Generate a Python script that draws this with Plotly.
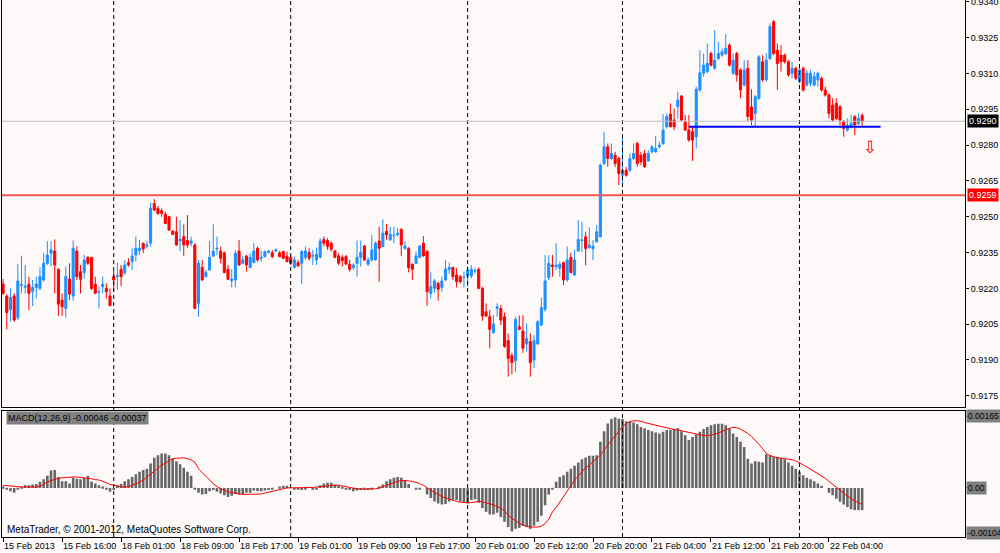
import plotly.graph_objects as go

# M30 candles, 15 Feb 2013 08:00 -> 22 Feb 2013 08:30
o = [0.92218, 0.92168, 0.92110, 0.92168, 0.92077, 0.92212, 0.92205, 0.92217, 0.92186, 0.92204,
     0.92200, 0.92235, 0.92305, 0.92347, 0.92356, 0.92280, 0.92151, 0.92116, 0.92239, 0.92168,
     0.92356, 0.92270, 0.92266, 0.92330, 0.92329, 0.92217, 0.92184, 0.92207, 0.92200, 0.92168,
     0.92249, 0.92249, 0.92280, 0.92266, 0.92308, 0.92312, 0.92340, 0.92358, 0.92389, 0.92377,
     0.92389, 0.92556, 0.92535, 0.92525, 0.92510, 0.92500, 0.92440, 0.92437, 0.92398, 0.92417,
     0.92400, 0.92389, 0.92382, 0.92137, 0.92288, 0.92249, 0.92277, 0.92335, 0.92365, 0.92356,
     0.92349, 0.92280, 0.92232, 0.92235, 0.92356, 0.92305, 0.92335, 0.92287, 0.92308, 0.92368,
     0.92326, 0.92333, 0.92350, 0.92349, 0.92356, 0.92349, 0.92354, 0.92335, 0.92330, 0.92288,
     0.92308, 0.92305, 0.92330, 0.92350, 0.92335, 0.92319, 0.92330, 0.92405, 0.92400, 0.92389,
     0.92357, 0.92336, 0.92330, 0.92333, 0.92301, 0.92287, 0.92305, 0.92330, 0.92377, 0.92301,
     0.92319, 0.92319, 0.92398, 0.92375, 0.92438, 0.92403, 0.92420, 0.92426, 0.92447, 0.92368,
     0.92368, 0.92301, 0.92305, 0.92330, 0.92389, 0.92354, 0.92179, 0.92200, 0.92221, 0.92204,
     0.92235, 0.92280, 0.92287, 0.92256, 0.92249, 0.92245, 0.92252, 0.92252, 0.92272, 0.92280,
     0.92200, 0.92102, 0.92081, 0.92014, 0.92116, 0.92116, 0.92081, 0.91981, 0.91918, 0.91897,
     0.92039, 0.92021, 0.91967, 0.91977, 0.91900, 0.91967, 0.92046, 0.92112, 0.92245, 0.92298,
     0.92291, 0.92284, 0.92308, 0.92235, 0.92330, 0.92256, 0.92357, 0.92400, 0.92416, 0.92371,
     0.92366, 0.92395, 0.92416, 0.92723, 0.92793, 0.92744, 0.92758, 0.92744, 0.92674, 0.92695,
     0.92695, 0.92744, 0.92807, 0.92758, 0.92765, 0.92734, 0.92772, 0.92772, 0.92793, 0.92807,
     0.92877, 0.92930, 0.92905, 0.92961, 0.93006, 0.92898, 0.92863, 0.92856, 0.92835, 0.93031,
     0.93101, 0.93108, 0.93184, 0.93122, 0.93163, 0.93177, 0.93184, 0.93219, 0.93101, 0.93184,
     0.93115, 0.93052, 0.93122, 0.92960, 0.92933, 0.92996, 0.93149, 0.93073, 0.93163, 0.93317,
     0.93198, 0.93177, 0.93177, 0.93149, 0.93101, 0.93122, 0.93066, 0.93122, 0.93052, 0.93059,
     0.93052, 0.93073, 0.93080, 0.93031, 0.93010, 0.92968, 0.92975, 0.92961, 0.92898, 0.92863,
     0.92877, 0.92919, 0.92891, 0.92925]

h = [0.92239, 0.92175, 0.92200, 0.92180, 0.92301, 0.92337, 0.92298, 0.92249, 0.92235, 0.92249,
     0.92288, 0.92349, 0.92398, 0.92398, 0.92405, 0.92284, 0.92179, 0.92291, 0.92305, 0.92401,
     0.92377, 0.92298, 0.92340, 0.92335, 0.92333, 0.92249, 0.92207, 0.92249, 0.92221, 0.92200,
     0.92274, 0.92308, 0.92298, 0.92319, 0.92326, 0.92368, 0.92417, 0.92403, 0.92391, 0.92400,
     0.92559, 0.92574, 0.92545, 0.92535, 0.92521, 0.92503, 0.92444, 0.92500, 0.92486, 0.92468,
     0.92507, 0.92417, 0.92389, 0.92319, 0.92319, 0.92277, 0.92398, 0.92468, 0.92417, 0.92375,
     0.92354, 0.92298, 0.92280, 0.92361, 0.92403, 0.92335, 0.92340, 0.92347, 0.92389, 0.92375,
     0.92358, 0.92358, 0.92361, 0.92361, 0.92368, 0.92356, 0.92358, 0.92354, 0.92340, 0.92333,
     0.92319, 0.92361, 0.92375, 0.92368, 0.92361, 0.92371, 0.92410, 0.92417, 0.92410, 0.92396,
     0.92361, 0.92347, 0.92340, 0.92340, 0.92319, 0.92305, 0.92400, 0.92400, 0.92382, 0.92330,
     0.92424, 0.92396, 0.92458, 0.92489, 0.92470, 0.92458, 0.92458, 0.92452, 0.92452, 0.92398,
     0.92372, 0.92305, 0.92354, 0.92382, 0.92419, 0.92361, 0.92267, 0.92239, 0.92228, 0.92249,
     0.92319, 0.92308, 0.92291, 0.92284, 0.92256, 0.92270, 0.92291, 0.92298, 0.92287, 0.92287,
     0.92207, 0.92137, 0.92109, 0.92088, 0.92137, 0.92130, 0.92098, 0.92011, 0.91930, 0.92081,
     0.92086, 0.92088, 0.92053, 0.92011, 0.92004, 0.92067, 0.92161, 0.92340, 0.92340, 0.92340,
     0.92389, 0.92312, 0.92312, 0.92375, 0.92350, 0.92361, 0.92486, 0.92479, 0.92437, 0.92455,
     0.92402, 0.92465, 0.92723, 0.92856, 0.92807, 0.92807, 0.92772, 0.92751, 0.92845, 0.92709,
     0.92765, 0.92807, 0.92814, 0.92772, 0.92779, 0.92779, 0.92800, 0.92838, 0.92814, 0.92930,
     0.92933, 0.92975, 0.92954, 0.93024, 0.93010, 0.92926, 0.92926, 0.92877, 0.93045, 0.93198,
     0.93184, 0.93226, 0.93191, 0.93282, 0.93233, 0.93205, 0.93265, 0.93226, 0.93184, 0.93191,
     0.93122, 0.93156, 0.93156, 0.93034, 0.93010, 0.93177, 0.93177, 0.93184, 0.93310, 0.93324,
     0.93226, 0.93219, 0.93184, 0.93156, 0.93149, 0.93129, 0.93129, 0.93129, 0.93115, 0.93115,
     0.93108, 0.93108, 0.93087, 0.93045, 0.93017, 0.92996, 0.92996, 0.92968, 0.92905, 0.92912,
     0.92926, 0.92926, 0.92933, 0.92933]

l = [0.92172, 0.92028, 0.92060, 0.92060, 0.92067, 0.92179, 0.92179, 0.92109, 0.92126, 0.92158,
     0.92193, 0.92228, 0.92298, 0.92291, 0.92179, 0.92085, 0.92085, 0.92078, 0.92151, 0.92148,
     0.92235, 0.92179, 0.92242, 0.92298, 0.92193, 0.92176, 0.92116, 0.92179, 0.92158, 0.92127,
     0.92189, 0.92193, 0.92210, 0.92256, 0.92291, 0.92277, 0.92312, 0.92340, 0.92347, 0.92368,
     0.92375, 0.92525, 0.92507, 0.92500, 0.92470, 0.92441, 0.92423, 0.92377, 0.92356, 0.92336,
     0.92370, 0.92375, 0.92112, 0.92081, 0.92232, 0.92246, 0.92274, 0.92333, 0.92340, 0.92305,
     0.92263, 0.92235, 0.92204, 0.92204, 0.92294, 0.92302, 0.92270, 0.92287, 0.92305, 0.92312,
     0.92312, 0.92330, 0.92347, 0.92326, 0.92354, 0.92330, 0.92323, 0.92309, 0.92298, 0.92284,
     0.92291, 0.92217, 0.92319, 0.92316, 0.92298, 0.92298, 0.92326, 0.92377, 0.92361, 0.92354,
     0.92326, 0.92298, 0.92291, 0.92298, 0.92270, 0.92277, 0.92249, 0.92291, 0.92316, 0.92294,
     0.92312, 0.92316, 0.92228, 0.92372, 0.92403, 0.92400, 0.92389, 0.92417, 0.92336, 0.92361,
     0.92267, 0.92235, 0.92302, 0.92326, 0.92333, 0.92127, 0.92158, 0.92182, 0.92148, 0.92186,
     0.92232, 0.92260, 0.92235, 0.92204, 0.92221, 0.92204, 0.92207, 0.92242, 0.92263, 0.92196,
     0.92064, 0.92081, 0.91949, 0.92011, 0.92081, 0.92046, 0.91951, 0.91830, 0.91841, 0.91850,
     0.92025, 0.91930, 0.91935, 0.91830, 0.91865, 0.91963, 0.92042, 0.92102, 0.92235, 0.92249,
     0.92277, 0.92249, 0.92214, 0.92228, 0.92263, 0.92252, 0.92354, 0.92353, 0.92297, 0.92367,
     0.92318, 0.92391, 0.92413, 0.92716, 0.92709, 0.92737, 0.92709, 0.92633, 0.92640, 0.92668,
     0.92688, 0.92737, 0.92709, 0.92716, 0.92706, 0.92730, 0.92765, 0.92768, 0.92786, 0.92800,
     0.92870, 0.92874, 0.92863, 0.92910, 0.92900, 0.92860, 0.92814, 0.92734, 0.92786, 0.93024,
     0.93087, 0.93101, 0.93129, 0.93115, 0.93156, 0.93170, 0.93177, 0.93129, 0.93094, 0.93066,
     0.92996, 0.93045, 0.92900, 0.92884, 0.92877, 0.92989, 0.93066, 0.93066, 0.93156, 0.93177,
     0.93031, 0.93108, 0.93142, 0.93087, 0.93080, 0.93073, 0.93059, 0.93024, 0.93045, 0.93045,
     0.93045, 0.93045, 0.93024, 0.93003, 0.92912, 0.92898, 0.92905, 0.92884, 0.92835, 0.92856,
     0.92870, 0.92842, 0.92884, 0.92877]

c = [0.92179, 0.92098, 0.92162, 0.92067, 0.92231, 0.92215, 0.92209, 0.92179, 0.92204, 0.92218,
     0.92249, 0.92305, 0.92340, 0.92361, 0.92298, 0.92134, 0.92123, 0.92249, 0.92176, 0.92368,
     0.92249, 0.92238, 0.92319, 0.92305, 0.92199, 0.92179, 0.92186, 0.92217, 0.92186, 0.92127,
     0.92235, 0.92253, 0.92249, 0.92298, 0.92298, 0.92335, 0.92368, 0.92368, 0.92365, 0.92382,
     0.92535, 0.92528, 0.92514, 0.92514, 0.92472, 0.92444, 0.92426, 0.92382, 0.92406, 0.92382,
     0.92382, 0.92398, 0.92116, 0.92305, 0.92235, 0.92266, 0.92330, 0.92356, 0.92368, 0.92326,
     0.92266, 0.92238, 0.92239, 0.92347, 0.92298, 0.92319, 0.92298, 0.92330, 0.92356, 0.92319,
     0.92330, 0.92354, 0.92356, 0.92333, 0.92361, 0.92333, 0.92326, 0.92312, 0.92305, 0.92319,
     0.92294, 0.92354, 0.92357, 0.92326, 0.92337, 0.92343, 0.92398, 0.92389, 0.92375, 0.92364,
     0.92330, 0.92305, 0.92316, 0.92302, 0.92280, 0.92298, 0.92330, 0.92350, 0.92319, 0.92319,
     0.92361, 0.92389, 0.92368, 0.92431, 0.92424, 0.92426, 0.92422, 0.92431, 0.92382, 0.92377,
     0.92287, 0.92280, 0.92336, 0.92377, 0.92336, 0.92186, 0.92207, 0.92231, 0.92196, 0.92231,
     0.92281, 0.92287, 0.92249, 0.92228, 0.92228, 0.92247, 0.92277, 0.92280, 0.92274, 0.92200,
     0.92084, 0.92084, 0.92028, 0.92051, 0.92123, 0.92067, 0.91956, 0.91907, 0.91889, 0.92070,
     0.92028, 0.91949, 0.91990, 0.91889, 0.91981, 0.92060, 0.92119, 0.92231, 0.92305, 0.92291,
     0.92298, 0.92301, 0.92235, 0.92319, 0.92266, 0.92319, 0.92405, 0.92403, 0.92367, 0.92381,
     0.92377, 0.92437, 0.92716, 0.92793, 0.92744, 0.92765, 0.92723, 0.92681, 0.92695, 0.92674,
     0.92744, 0.92765, 0.92723, 0.92730, 0.92709, 0.92765, 0.92793, 0.92786, 0.92800, 0.92863,
     0.92919, 0.92877, 0.92877, 0.92989, 0.92905, 0.92863, 0.92821, 0.92821, 0.93034, 0.93103,
     0.93135, 0.93142, 0.93135, 0.93156, 0.93184, 0.93191, 0.93205, 0.93135, 0.93156, 0.93094,
     0.93031, 0.93115, 0.92920, 0.92905, 0.93003, 0.93170, 0.93073, 0.93156, 0.93296, 0.93184,
     0.93142, 0.93149, 0.93149, 0.93094, 0.93122, 0.93080, 0.93115, 0.93031, 0.93101, 0.93101,
     0.93087, 0.93101, 0.93031, 0.93010, 0.92933, 0.92905, 0.92912, 0.92905, 0.92870, 0.92884,
     0.92891, 0.92884, 0.92912, 0.92900]

# MACD(12,26,9): main line (histogram) and signal, in units of 1e-5
macd_main_e5 = [3, -3, -8, -11, -2, 2, 6, 6, 8, 9,
                14, 20, 28, 40, 41, 25, 15, 15, 10, 23,
                21, 20, 23, 28, 14, 10, 6, 3, -3, -9,
                -5, 6, 9, 15, 20, 25, 31, 37, 41, 44,
                56, 69, 75, 79, 79, 75, 67, 61, 54, 46,
                37, 28, -2, -11, -15, -14, -8, -5, -9, -13,
                -17, -21, -18, -14, -15, -14, -11, -11, -6, -8,
                -8, -6, -5, -2, 0, 3, 5, 5, 0, -2,
                -4, -5, -2, 0, -3, -2, 6, 10, 12, 12,
                8, 5, 2, -2, -5, -8, -6, -5, -3, -5,
                -3, 0, 3, 8, 15, 20, 23, 25, 23, 18,
                9, 0, -3, -2, 0, -15, -23, -31, -36, -38,
                -37, -31, -27, -28, -31, -34, -36, -28, -26, -34,
                -46, -55, -61, -61, -57, -67, -78, -90, -100, -94,
                -92, -87, -90, -94, -87, -78, -64, -40, -15, -3,
                14, 25, 29, 37, 44, 51, 58, 66, 70, 74,
                74, 75, 106, 130, 148, 158, 162, 159, 158, 153,
                152, 150, 146, 140, 137, 133, 130, 127, 125, 129,
                133, 133, 135, 137, 130, 121, 110, 117, 123, 129,
                135, 140, 144, 146, 147, 147, 144, 137, 125, 117,
                106, 94, 67, 56, 61, 60, 58, 77, 75, 71,
                71, 69, 66, 58, 51, 44, 37, 29, 23, 20,
                15, 10, 5, 0, -11, -17, -25, -32, -38, -44,
                -49, -51, -51, -51]

macd_signal_e5 = [6, 5, 4, 3, 3, 2, 2, 2, 2, 2,
                  4, 8, 14, 17, 20, 22, 23, 24, 25, 25,
                  25, 24, 23, 23, 21, 19, 18, 15, 11, 8,
                  6, 4, 2, 2, 3, 6, 9, 13, 18, 25,
                  33, 40, 46, 52, 57, 62, 67, 68, 69, 69,
                  67, 64, 59, 44, 35, 26, 18, 10, 3, -2,
                  -6, -9, -11, -13, -14, -15, -15, -15, -15, -15,
                  -14, -12, -10, -8, -6, -4, -2, 0, 0, 0,
                  0, 0, 0, 0, 1, 2, 3, 4, 5, 5,
                  6, 6, 5, 3, 1, -1, -2, -3, -3, -3,
                  -3, -2, 0, 3, 6, 10, 13, 15, 17, 17,
                  16, 15, 13, 10, 6, 0, -5, -11, -15, -20,
                  -23, -26, -29, -31, -33, -34, -34, -34, -33, -31,
                  -32, -34, -36, -39, -43, -46, -53, -63, -70, -76,
                  -82, -86, -88, -90, -90, -90, -88, -82, -72, -55,
                  -45, -33, -21, -8, 5, 18, 28, 37, 46, 52,
                  60, 68, 75, 87, 98, 110, 121, 130, 140, 148,
                  152, 154, 154, 153, 150, 148, 146, 144, 142, 140,
                  137, 136, 134, 133, 131, 129, 127, 125, 123, 121,
                  120, 120, 121, 123, 126, 129, 133, 137, 139, 138,
                  135, 130, 125, 118, 110, 100, 90, 79, 74, 71,
                  69, 68, 67, 66, 65, 62, 58, 53, 48, 43,
                  38, 34, 29, 22, 15, 9, 2, -5, -13, -19,
                  -25, -30, -34, -38]

tick_bars = [0, 16, 32, 48, 64, 80, 96, 112, 128, 144, 160, 176, 192, 208, 224]
tick_labels = ["15 Feb 2013", "15 Feb 16:00", "18 Feb 01:00", "18 Feb 09:00", "18 Feb 17:00",
               "19 Feb 01:00", "19 Feb 09:00", "19 Feb 17:00", "20 Feb 01:00", "20 Feb 12:00",
               "20 Feb 20:00", "21 Feb 04:00", "21 Feb 12:00", "21 Feb 20:00", "22 Feb 04:00"]
day_starts = [30, 78, 126, 168, 216]
price_ticks = [0.9175, 0.9190, 0.9205, 0.9220, 0.9235, 0.9250, 0.9265, 0.9280, 0.9295, 0.9310, 0.9325, 0.9340]
macd_ticks = [0.00165, 0.0, -0.00104]
macd_tick_text = ["0.00165", "0.00", "-0.00104"]

bid_price = 0.9290
level_price = 0.9259
support_price = 0.92877
support_from, support_to = 186, 238
arrow_bar, arrow_price = 235, 0.92792

bars = list(range(len(c)))
macd_main = [v * 1e-5 for v in macd_main_e5]
macd_signal = [v * 1e-5 for v in macd_signal_e5]

BG = "#fcf9f8"
FONT = "Liberation Sans"

fig = go.Figure()
fig.add_trace(go.Candlestick(
    x=bars, open=o, high=h, low=l, close=c, xaxis="x", yaxis="y",
    increasing=dict(line=dict(color="#1e90ff", width=1), fillcolor="#1e90ff"),
    decreasing=dict(line=dict(color="#ff0000", width=1), fillcolor="#ff0000"),
    whiskerwidth=0, hoverinfo="skip", showlegend=False))
fig.add_trace(go.Bar(x=bars, y=macd_main, xaxis="x2", yaxis="y2",
                     marker=dict(color="#666666", line_width=0), hoverinfo="skip"))
fig.add_trace(go.Scatter(x=bars, y=macd_signal, xaxis="x2", yaxis="y2", mode="lines",
                         line=dict(color="#ff0000", width=1), hoverinfo="skip"))

x_range = [-0.3, 260.9]
axis_common = dict(showgrid=False, zeroline=False, showline=True, mirror=True,
                   linecolor="black", linewidth=1, automargin=False)

fig.update_layout(
    width=1000, height=553,
    margin=dict(l=2, r=35, t=0, b=16),
    paper_bgcolor=BG, plot_bgcolor=BG,
    showlegend=False, bargap=0.3, boxgap=0.2,
    font=dict(family=FONT, size=9, color="black"),
    xaxis=dict(domain=[0, 1], anchor="y", range=x_range, showticklabels=False, ticks="",
               rangeslider=dict(visible=False), **axis_common),
    yaxis=dict(domain=[0.2421, 1], anchor="x", side="right", range=[0.91703, 0.93408],
               tickvals=price_ticks, tickformat=".4f", ticks="outside", ticklen=3,
               tickcolor="black", tickfont=dict(family=FONT, size=9), **axis_common),
    xaxis2=dict(domain=[0, 1], anchor="y2", range=x_range, matches="x",
                tickvals=tick_bars, ticktext=tick_labels, ticks="outside", ticklen=4,
                tickcolor="black", tickangle=0, ticklabelposition="outside right",
                tickfont=dict(family=FONT, size=9), **axis_common),
    yaxis2=dict(domain=[0, 0.2352], anchor="x2", side="right", range=[-0.001128, 0.001772],
                tickvals=macd_ticks, showticklabels=False, ticks="outside", ticklen=3,
                tickcolor="black", **axis_common),
)

# day separators across both panels
for b in day_starts:
    fig.add_shape(type="line", xref="x", yref="paper", x0=b, x1=b, y0=0, y1=1,
                  line=dict(color="black", width=1, dash="4px,3px"))

# horizontal levels on the price panel
fig.add_shape(type="line", xref="x domain", yref="y", x0=0, x1=1, y0=bid_price, y1=bid_price,
              line=dict(color="#c0c0c0", width=1))
fig.add_shape(type="line", xref="x domain", yref="y", x0=0, x1=1, y0=level_price, y1=level_price,
              line=dict(color="#f25555", width=2))
fig.add_shape(type="line", xref="x", yref="y", x0=support_from, x1=support_to,
              y0=support_price, y1=support_price, line=dict(color="#0000ff", width=2))

# top price label that plotly drops at the very edge
fig.add_annotation(xref="paper", yref="y", x=1, y=price_ticks[-1], xanchor="left", xshift=4,
                   text="%.4f" % price_ticks[-1], showarrow=False,
                   font=dict(color="black", size=9, family=FONT))

# price tags on the right scale
fig.add_annotation(xref="paper", yref="y", x=1, y=bid_price, xanchor="left", xshift=2,
                   text="0.9290", showarrow=False, bgcolor="black", borderpad=1,
                   font=dict(color="white", size=9, family=FONT))
fig.add_annotation(xref="paper", yref="y", x=1, y=level_price, xanchor="left", xshift=2,
                   text="0.9259", showarrow=False, bgcolor="#ff0000", borderpad=1,
                   font=dict(color="white", size=9, family=FONT))
for v, t in zip(macd_ticks, macd_tick_text):
    fig.add_annotation(xref="paper", yref="y2", x=1, y=v, xanchor="left", xshift=1,
                       text=t, showarrow=False, bgcolor="#808080", borderpad=1,
                       font=dict(color="black", size=8.5, family=FONT))

fig.add_annotation(xref="x", yref="y", x=arrow_bar, y=arrow_price, text="⇩", showarrow=False,
                   font=dict(color="#ff0000", size=17, family="DejaVu Sans"))

fig.add_annotation(xref="paper", yref="paper", x=0.004, y=0.222, xanchor="left", yanchor="middle",
                   text="MACD(12,26,9) -0.00046 -0.00037", showarrow=False, bgcolor="#808080",
                   borderpad=1, font=dict(color="black", size=9, family=FONT))
fig.add_annotation(xref="paper", yref="paper", x=0.003, y=0.014, xanchor="left", yanchor="middle",
                   text="MetaTrader, © 2001-2012, MetaQuotes Software Corp.", showarrow=False,
                   font=dict(color="black", size=10, family=FONT))

# the page body has a default 8px margin; drop it so the chart fills the window
fig.write_html("out.html", config={"displayModeBar": False},
               post_script="document.body.style.margin='0';document.body.style.overflow='hidden';")
